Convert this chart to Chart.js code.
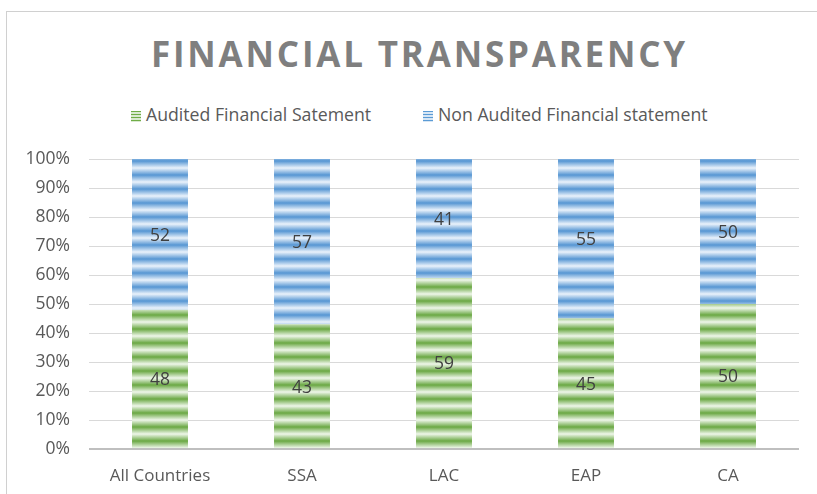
<!DOCTYPE html>
<html><head><meta charset="utf-8">
<script src="https://cdn.jsdelivr.net/npm/chart.js@4/dist/chart.umd.min.js"></script>
<style>
html,body{margin:0;padding:0;background:#fff;}
#wrap{position:relative;width:817px;height:494px;overflow:hidden;font-family:"Open Sans",sans-serif;}
#frame{position:absolute;left:6px;top:11px;width:900px;height:600px;border-top:1.5px solid #d0d0d0;border-left:1.5px solid #d0d0d0;}
#title{position:absolute;left:11px;width:817px;top:30px;text-align:center;font-weight:700;font-size:35px;letter-spacing:2.8px;color:#7f7f7f;line-height:48px;}
.leg{position:absolute;top:103px;font-size:17.7px;line-height:22px;color:#595959;white-space:nowrap;}
.box{display:inline-block;width:10px;height:11px;vertical-align:-1px;margin-right:5px;}
#c{position:absolute;left:0;top:0;}
</style></head>
<body><div id="wrap">
<div id="frame"></div>
<div id="title">FINANCIAL TRANSPARENCY</div>
<div class="leg" style="left:131px"><span class="box" style="background:repeating-linear-gradient(#70ad47 0 1px,#d9ead0 1px 3px)"></span>Audited Financial Satement</div>
<div class="leg" style="left:423px"><span class="box" style="background:repeating-linear-gradient(#5b9bd5 0 1px,#d6e6f5 1px 3px)"></span>Non Audited Financial statement</div>
<canvas id="c" width="817" height="494"></canvas>
</div>
<script>
const categories = ["All Countries","SSA","LAC","EAP","CA"];
const audited = [48,43,59,45,50];
const nonAudited = [52,57,41,55,50];
const seriesNames = ["Audited Financial Satement","Non Audited Financial statement"];
const yTicks = [0,10,20,30,40,50,60,70,80,90,100];

function stripe(dark, light){
  const p = document.createElement('canvas');
  p.width = 4; p.height = 14;
  const g = p.getContext('2d');
  const gr = g.createLinearGradient(0,0,0,14);
  gr.addColorStop(0, light);
  gr.addColorStop(0.5, dark);
  gr.addColorStop(1, light);
  g.fillStyle = gr; g.fillRect(0,0,4,14);
  return document.getElementById('c').getContext('2d').createPattern(p,'repeat');
}
const greenPat = stripe('#6aa843','#eef6e9');
const bluePat = stripe('#5696d3','#eaf2fb');

const labelPlugin = {
  id:'vals',
  afterDatasetsDraw(chart){
    const ctx = chart.ctx;
    ctx.save();
    ctx.font = '17.5px "Open Sans"';
    ctx.fillStyle = '#404040';
    ctx.textAlign = 'center';
    ctx.textBaseline = 'middle';
    chart.data.datasets.forEach((ds,i)=>{
      chart.getDatasetMeta(i).data.forEach((el,j)=>{
        ctx.fillText(ds.data[j], el.x, (el.y+el.base)/2 + 1.5);
      });
    });
    ctx.restore();
  }
};

new Chart(document.getElementById('c'), {
  type:'bar',
  data:{
    labels:categories,
    datasets:[
      {label:seriesNames[0], data:audited, backgroundColor:greenPat, categoryPercentage:1, barPercentage:0.394},
      {label:seriesNames[1], data:nonAudited, backgroundColor:bluePat, categoryPercentage:1, barPercentage:0.394}
    ]
  },
  options:{
    responsive:false, animation:false,
    layout:{padding:{top:159,left:0,right:18,bottom:0}},
    plugins:{legend:{display:false}, title:{display:false}, tooltip:{enabled:false}},
    scales:{
      x:{stacked:true,
        grid:{display:false}, border:{display:false},
        ticks:{color:'#595959', font:{family:'"Open Sans"', size:17}, padding:9},
        afterFit(s){ s.height = 45; }
      },
      y:{stacked:true, min:0, max:100,
        afterBuildTicks(s){ s.ticks = yTicks.map(v=>({value:v})); },
        grid:{drawTicks:false, color:(c)=> c.tick && c.tick.value===0 ? '#bfbfbf' : '#d9d9d9', lineWidth:(c)=> c.tick && c.tick.value===0 ? 2 : 1},
        border:{display:false},
        ticks:{color:'#595959', font:{family:'"Open Sans"', size:17.5}, padding:19, callback:(v)=>v+'%'},
        afterFit(s){ s.width = 89; }
      }
    }
  },
  plugins:[labelPlugin]
});
</script>
</body></html>
